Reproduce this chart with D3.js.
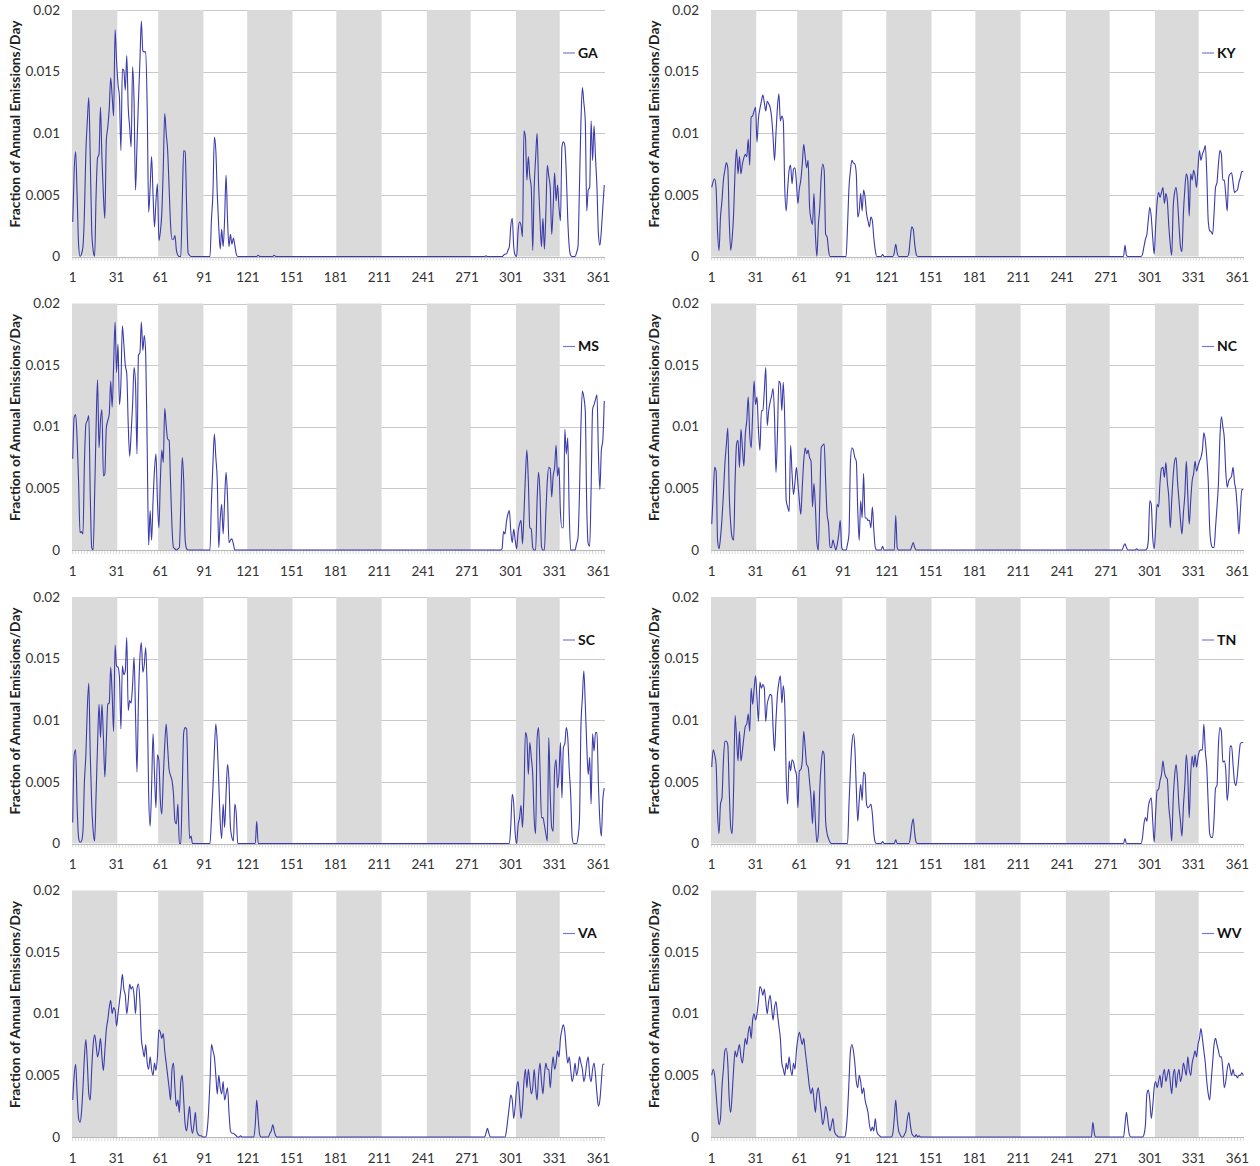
<!DOCTYPE html>
<html><head><meta charset="utf-8">
<script src="https://cdn.jsdelivr.net/npm/d3@7"></script>
<style>
body{margin:0;background:#fff;}
svg{display:block;}
text{font-family:Lato,"Open Sans","DejaVu Sans",sans-serif;}
</style>
</head><body>
<svg id="chart" width="1260" height="1166"></svg>
<script>
const states = ["GA","KY","MS","NC","SC","TN","VA","WV"];
const yTicks = [0, 0.005, 0.01, 0.015, 0.02];
const yTickLabels = ["0", "0.005", "0.01", "0.015", "0.02"];
const xTicks = [1, 31, 61, 91, 121, 151, 181, 211, 241, 271, 301, 331, 361];
const monthStart = [1, 32, 60, 91, 121, 152, 182, 213, 244, 274, 305, 335];
const monthEnd   = [31, 59, 90, 120, 151, 181, 212, 243, 273, 304, 334, 365];
const shadedMonths = [0, 2, 4, 6, 8, 10];
const yTitle = "Fraction of Annual Emissions/Day";

const GA = [
.0028,.007,.0085,.005,.001,0,.0002,.0008,.0035,.0085,.011,.0129,.008,.0021,.0005,0,.005,.008,.0083,.0121,
.008,.005,.0031,.0094,.0105,.012,.0145,.013,.0114,.0184,.0159,.014,.0129,.0086,.0152,.0151,.0135,.0163,.0121,.0105,
.0089,.0154,.0126,.0054,.009,.0126,.0158,.0191,.0167,.0166,.0166,.0121,.0036,.0056,.0081,.005,.0024,.0045,.0059,.0013,
.002,.0035,.0072,.0116,.01,.0086,.0056,.0026,.0014,.0014,.0017,.0005,.0001,0,0,.0045,.0086,.0085,.004,.0003,
.0001,0,0,0,0,0,0,0,0,0,0,0,0,0,0,.003,.0051,.0097,.0086,.005,
.0024,.0006,.0022,.0008,.003,.0066,.003,.0008,.0018,.001,.0015,.0009,.0002,0,0,0,0,0,0,0,
0,0,0,0,0,0,0,.0001,0,0,0,0,0,0,0,0,0,0,.0001,0,
0,0,0,0,0,0,0,0,0,0,0,0,0,0,0,0,0,0,0,0,
0,0,0,0,0,0,0,0,0,0,0,0,0,0,0,0,0,0,0,0,
0,0,0,0,0,0,0,0,0,0,0,0,0,0,0,0,0,0,0,0,
0,0,0,0,0,0,0,0,0,0,0,0,0,0,0,0,0,0,0,0,
0,0,0,0,0,0,0,0,0,0,0,0,0,0,0,0,0,0,0,0,
0,0,0,0,0,0,0,0,0,0,0,0,0,0,0,0,0,0,0,0,
0,0,0,0,0,0,0,0,0,0,0,0,0,0,0,0,0,0,0,0,
0,0,0,.00005,0,0,0,0,0,0,0,0,0,0,0,.0001,.0002,.0002,.0005,.0008,
.0025,.0031,.0008,.0001,0,.0021,.0028,.0025,.0016,.0102,.0097,.0062,.0081,.0065,.0056,.0005,.0056,.008,.01,.0059,
.003,.0008,.0031,.0006,.0035,.0074,.0065,.0056,.0018,.004,.0068,.0045,.0058,.004,.0029,.0089,.0093,.009,.0067,.003,
.0008,.0001,0,0,0,.0003,.0008,.0056,.0108,.0137,.0125,.011,.0037,.0054,.0056,.011,.0078,.0106,.008,.0056,
.0018,.0009,.0021,.004,.0058];

const KY = [
.0056,.0061,.0063,.0055,.002,.0005,.0032,.0045,.0062,.007,.0076,.0072,.0029,.0005,.0015,.0035,.007,.0087,.0067,.0081,
.0067,.0075,.008,.0083,.0081,.0095,.0074,.0113,.0114,.0118,.0121,.0093,.0112,.012,.0126,.0131,.0125,.0118,.0126,.0124,
.0121,.0113,.0097,.0078,.01,.0121,.0132,.011,.0114,.011,.0056,.0037,.0055,.007,.0074,.0059,.0071,.0072,.006,.0043,
.0055,.0062,.0075,.0091,.0081,.0072,.0078,.004,.003,.0026,.0051,.0018,0,.0025,.004,.0065,.0075,.007,.0018,.0016,
.0005,0,0,0,0,0,0,0,0,0,0,0,0,.0025,.0056,.007,.0078,.0076,.0075,.0067,
.0032,.0037,.0051,.0037,.0054,.0048,.0035,.0029,.0024,.0032,.0029,.0015,.0005,0,0,0,0,.00015,0,0,
0,0,0,0,0,.0003,.001,.0003,0,0,0,0,0,0,0,.0003,.0015,.0024,.0022,.001,
.0002,0,0,0,0,0,0,0,0,0,0,0,0,0,0,0,0,0,0,0,
0,0,0,0,0,0,0,0,0,0,0,0,0,0,0,0,0,0,0,0,
0,0,0,0,0,0,0,0,0,0,0,0,0,0,0,0,0,0,0,0,
0,0,0,0,0,0,0,0,0,0,0,0,0,0,0,0,0,0,0,0,
0,0,0,0,0,0,0,0,0,0,0,0,0,0,0,0,0,0,0,0,
0,0,0,0,0,0,0,0,0,0,0,0,0,0,0,0,0,0,0,0,
0,0,0,0,0,0,0,0,0,0,0,0,0,0,0,0,0,0,0,0,
0,0,0,.0009,.0001,0,0,0,0,0,0,0,0,0,0,.0002,.0008,.0014,.0018,.003,
.004,.0032,.0015,.0002,.0025,.0044,.0052,.0048,.0052,.0056,.0043,.0051,.0045,.0025,.001,.0001,.004,.0052,.0056,.0045,
.0025,.0008,.0004,.0035,.0055,.0067,.0062,.0033,.0067,.0062,.007,.0065,.0056,.0072,.0086,.0078,.0083,.0086,.009,.0067,
.0029,.0021,.002,.0018,.0035,.0056,.006,.0075,.0086,.0083,.0062,.0062,.005,.0037,.0064,.0067,.0068,.006,.0052,.0053,
.0054,.006,.0064,.0069,.0069];

const MS = [
.0074,.0108,.011,.009,.0056,.0014,.0015,.0013,.007,.0102,.0105,.0109,.0045,.0002,0,.0045,.01,.0138,.0083,.0105,
.0114,.006,.0062,.0099,.0105,.011,.0137,.0116,.015,.0185,.0144,.0167,.0118,.0135,.0182,.0167,.015,.0143,.0102,.0076,
.0095,.0118,.0148,.0135,.0078,.0158,.016,.0185,.0162,.0174,.0158,.0083,.0004,.0032,.0008,.004,.0065,.0078,.004,.0018,
.0056,.0081,.0071,.0115,.0101,.009,.0089,.0054,.0018,.0002,.0001,0,.0001,.0002,.0035,.0075,.0056,.0008,.0001,0,
0,0,0,0,0,0,0,0,0,0,0,0,0,0,0,.004,.007,.0094,.0075,.0056,
.0002,.0025,.0037,.0013,.004,.0063,.0043,.0006,.0008,.0009,.0005,0,0,0,0,0,0,0,0,0,
0,0,0,0,0,0,0,0,0,0,0,0,0,0,0,0,0,0,0,0,
0,0,0,0,0,0,0,0,0,0,0,0,0,0,0,0,0,0,0,0,
0,0,0,0,0,0,0,0,0,0,0,0,0,0,0,0,0,0,0,0,
0,0,0,0,0,0,0,0,0,0,0,0,0,0,0,0,0,0,0,0,
0,0,0,0,0,0,0,0,0,0,0,0,0,0,0,0,0,0,0,0,
0,0,0,0,0,0,0,0,0,0,0,0,0,0,0,0,0,0,0,0,
0,0,0,0,0,0,0,0,0,0,0,0,0,0,0,0,0,0,0,0,
0,0,0,0,0,0,0,0,0,0,0,0,0,0,0,0,0,0,0,0,
0,0,0,0,0,0,0,0,0,0,0,0,0,0,.0001,.0015,.0013,.0023,.0029,.0032,
.0015,.0006,.0017,.0008,.0001,.0015,.0021,.0024,.0005,.0029,.006,.0081,.0056,.0018,.0017,.0002,0,0,.004,.0063,
.0045,.0003,0,0,.003,.0056,.0067,.0066,.0043,.006,.0067,.0085,.006,.0067,.003,.0018,.0018,.0098,.0078,.0091,
.003,0,0,0,0,.0005,.001,.0045,.01,.0129,.0124,.0113,.0035,.0005,.0003,.005,.0114,.0118,.0122,.0126,
.0078,.0049,.0081,.0089,.0121];

const NC = [
.0021,.0045,.0067,.0064,.0008,.0001,.001,.0025,.0045,.007,.0085,.0099,.0045,.0021,.001,.0008,.0056,.0086,.0089,.0067,
.0098,.0083,.0068,.0094,.0105,.0124,.0094,.0083,.011,.0137,.0118,.0124,.0097,.0081,.0113,.0113,.0129,.0148,.0101,.0113,
.012,.0125,.0131,.0108,.0063,.0094,.0137,.0135,.0113,.0136,.0105,.004,.0035,.0031,.0085,.0062,.0045,.0055,.0067,.0054,
.004,.0029,.0051,.0072,.0083,.0078,.0081,.0075,.0072,.0035,.0054,.0035,.0006,0,.004,.0083,.0085,.0086,.0056,.0029,
.0021,.0002,.0002,.0008,.0004,0,.0005,.0013,.0024,.0002,0,0,0,.0005,.0013,.0072,.0083,.0081,.0075,.0072,
.0032,.0008,.004,.0026,.0062,.0026,.0026,.0024,.0024,.0018,.0035,.0016,.0002,0,0,0,0,.0003,0,0,
0,0,0,0,0,0,.0028,.0002,0,0,0,0,0,0,0,0,0,.0003,.0006,.0002,
0,0,0,0,0,0,0,0,0,0,0,0,0,0,0,0,0,0,0,0,
0,0,0,0,0,0,0,0,0,0,0,0,0,0,0,0,0,0,0,0,
0,0,0,0,0,0,0,0,0,0,0,0,0,0,0,0,0,0,0,0,
0,0,0,0,0,0,0,0,0,0,0,0,0,0,0,0,0,0,0,0,
0,0,0,0,0,0,0,0,0,0,0,0,0,0,0,0,0,0,0,0,
0,0,0,0,0,0,0,0,0,0,0,0,0,0,0,0,0,0,0,0,
0,0,0,0,0,0,0,0,0,0,0,0,0,0,0,0,0,0,0,0,
0,0,.0003,.0005,.0002,0,0,0,0,0,0,.0001,0,0,0,0,0,0,.0001,.0008,
.004,.0037,.001,.0001,.0018,.0037,.0035,.0055,.0066,.0067,.0059,.0071,.0055,.0043,.0018,.004,.006,.0072,.0075,.0055,
.004,.0024,.0013,.003,.0045,.0072,.0045,.0021,.004,.0056,.0062,.0072,.0064,.0068,.0072,.0075,.0081,.0095,.0089,.0075,
.0056,.0018,.0005,.0002,.0002,.0018,.0035,.0054,.0091,.0108,.01,.0091,.0064,.0051,.0056,.0058,.006,.0067,.0055,.0048,
.0032,.0013,.0032,.0049,.0049];

const SC = [
.0017,.0072,.0076,.003,.0005,.0001,.0002,.001,.005,.0072,.011,.013,.0072,.0032,.001,.0002,.004,.008,.0113,.0086,
.0113,.0086,.0054,.0083,.0113,.0114,.0143,.0121,.0091,.0161,.0144,.0143,.0135,.0093,.0144,.0137,.014,.0167,.0108,.0116,
.0114,.0129,.0151,.0105,.0058,.0116,.0151,.0163,.0139,.0145,.0159,.0121,.004,.0014,.0045,.0089,.0056,.0029,.0072,.0067,
.0035,.0024,.0054,.008,.0097,.0078,.006,.0055,.0051,.004,.0018,.0016,.0032,0,0,.0045,.009,.0094,.0093,.0045,
.0004,.0006,0,0,0,0,0,0,0,0,0,0,0,0,0,.002,.0045,.0075,.0097,.0081,
.005,.0018,.0004,.0032,.0013,.004,.0064,.0051,.0013,.0005,.0002,.0032,.0024,0,0,0,0,0,0,0,
0,0,0,0,0,0,.0018,0,0,0,0,0,0,0,0,0,0,0,0,0,
0,0,0,0,0,0,0,0,0,0,0,0,0,0,0,0,0,0,0,0,
0,0,0,0,0,0,0,0,0,0,0,0,0,0,0,0,0,0,0,0,
0,0,0,0,0,0,0,0,0,0,0,0,0,0,0,0,0,0,0,0,
0,0,0,0,0,0,0,0,0,0,0,0,0,0,0,0,0,0,0,0,
0,0,0,0,0,0,0,0,0,0,0,0,0,0,0,0,0,0,0,0,
0,0,0,0,0,0,0,0,0,0,0,0,0,0,0,0,0,0,0,0,
0,0,0,0,0,0,0,0,0,0,0,0,0,0,0,0,0,0,0,0,
0,0,0,0,0,0,0,0,0,0,0,0,0,0,0,0,0,0,0,0,
.0015,.004,.0032,.0008,0,.0015,.0021,.0031,.0013,.004,.009,.0086,.0056,.0082,.007,.0056,.002,.0008,.0085,.0094,
.006,.0021,.0021,.0015,.0008,.0002,.0086,.004,.0013,.001,.006,.0068,.0045,.0056,.0082,.0037,.0078,.0081,.0094,.0086,
.006,.004,.0005,0,0,0,.0005,.0018,.0094,.0118,.014,.0113,.008,.0056,.007,.0032,.0089,.0075,.009,.009,
.0048,.0018,.0006,.0035,.0045];

const TN = [
.0062,.0076,.0072,.0064,.0024,.0008,.0032,.0037,.0067,.0083,.0083,.008,.0043,.0013,.0008,.0045,.0104,.0085,.0067,.0091,
.0067,.0075,.0086,.0095,.0097,.0105,.0091,.0126,.0113,.0125,.0136,.0118,.0099,.0131,.0126,.0129,.0126,.0099,.0113,.0118,
.0121,.012,.0094,.0075,.01,.0121,.0131,.0136,.0114,.0128,.0113,.0054,.0032,.0067,.0059,.0068,.0066,.006,.0056,.0029,
.0059,.006,.0067,.0091,.0078,.0064,.0062,.005,.0037,.0016,.0043,.0018,.0001,.0008,.0045,.0065,.0075,.0072,.0018,.0008,
.0004,.0001,0,0,0,0,0,0,0,0,0,0,0,0,.0032,.006,.0081,.0089,.0078,.0045,
.0018,.0035,.0048,.0035,.0058,.0056,.0032,.0029,.003,.0032,.0024,.0008,.0001,0,0,0,0,.00015,0,0,
0,0,0,0,0,0,.0003,0,0,0,0,0,0,0,0,0,.0005,.0015,.002,.0008,
.0001,0,0,0,0,0,0,0,0,0,0,0,0,0,0,0,0,0,0,0,
0,0,0,0,0,0,0,0,0,0,0,0,0,0,0,0,0,0,0,0,
0,0,0,0,0,0,0,0,0,0,0,0,0,0,0,0,0,0,0,0,
0,0,0,0,0,0,0,0,0,0,0,0,0,0,0,0,0,0,0,0,
0,0,0,0,0,0,0,0,0,0,0,0,0,0,0,0,0,0,0,0,
0,0,0,0,0,0,0,0,0,0,0,0,0,0,0,0,0,0,0,0,
0,0,0,0,0,0,0,0,0,0,0,0,0,0,0,0,0,0,0,0,
0,0,0,.0004,0,0,0,0,0,0,0,0,0,0,0,.0005,.0016,.0021,.0018,.003,
.0035,.0037,.0018,.0001,.0025,.0043,.0044,.0051,.0056,.0067,.0058,.0054,.0052,.003,.0018,.0002,.0035,.0055,.0064,.0051,
.003,.0018,.0006,.003,.0048,.0072,.0056,.0021,.0056,.0071,.0062,.0072,.0062,.007,.0075,.0076,.0076,.0097,.0075,.0062,
.0032,.0008,.0005,.0005,.002,.0045,.0047,.008,.0094,.0091,.0066,.0067,.006,.0035,.0048,.0079,.0079,.0064,.005,.0047,
.0056,.007,.0081,.0082,.0082];

const VA = [
.003,.005,.0059,.0035,.0015,.0012,.002,.004,.0065,.0079,.006,.0035,.003,.0055,.0075,.0083,.0075,.0065,.007,.008,
.0065,.0054,.007,.0087,.0095,.0105,.0111,.01,.0105,.0103,.009,.01,.011,.012,.0132,.012,.0115,.01,.011,.0124,
.012,.0122,.0115,.01,.012,.0124,.011,.008,.0071,.0065,.0075,.006,.0055,.0065,.0055,.005,.006,.0054,.0065,.0087,
.0085,.008,.0084,.007,.006,.005,.004,.003,.0055,.006,.004,.0025,.003,.002,.0045,.005,.003,.001,.0005,.0015,
.0025,.001,.0003,.001,.002,.0005,.0002,.0001,.0001,0,0,0,.0005,.002,.0045,.0075,.007,.0065,.005,.0035,
.005,.004,.0035,.0045,.003,.0035,.004,.002,.0005,.0003,.0003,.0002,.0001,0,0,.0001,0,0,0,0,
0,0,0,0,0,.001,.003,.0015,.0002,0,0,0,0,0,0,.0003,.0005,.001,.0005,.0001,
0,0,0,0,0,0,0,0,0,0,0,0,0,0,0,0,0,0,0,0,
0,0,0,0,0,0,0,0,0,0,0,0,0,0,0,0,0,0,0,0,
0,0,0,0,0,0,0,0,0,0,0,0,0,0,0,0,0,0,0,0,
0,0,0,0,0,0,0,0,0,0,0,0,0,0,0,0,0,0,0,0,
0,0,0,0,0,0,0,0,0,0,0,0,0,0,0,0,0,0,0,0,
0,0,0,0,0,0,0,0,0,0,0,0,0,0,0,0,0,0,0,0,
0,0,0,0,0,0,0,0,0,0,0,0,0,0,0,0,0,0,0,0,
0,0,0,.0003,.0007,.0003,0,0,0,0,0,0,0,0,0,0,0,.0005,.0015,.0025,
.0034,.003,.0015,.0025,.004,.0045,.003,.0015,.0025,.0045,.0055,.004,.0055,.0045,.0035,.004,.0055,.004,.003,.005,
.006,.0045,.0035,.005,.006,.0055,.0055,.004,.0055,.0065,.0055,.006,.007,.0065,.008,.0087,.0091,.0085,.007,.006,
.0065,.0055,.0045,.005,.006,.005,.0055,.0065,.006,.0055,.0045,.005,.006,.0065,.005,.0045,.0055,.006,.005,.0035,
.0025,.003,.0045,.0059,.0059];

const WV = [
.005,.0055,.005,.0035,.002,.001,.0015,.004,.0055,.007,.0072,.006,.003,.002,.0035,.0055,.007,.0065,.007,.0075,
.0065,.006,.007,.008,.0075,.0085,.009,.008,.0095,.01,.0095,.01,.011,.0122,.012,.0115,.012,.011,.01,.011,
.0115,.0105,.0095,.0105,.011,.01,.009,.008,.006,.0055,.005,.006,.0055,.0065,.0055,.005,.006,.0055,.007,.008,
.0085,.008,.0075,.008,.007,.006,.005,.004,.0035,.004,.003,.002,.0035,.004,.003,.002,.001,.0015,.0025,.002,
.001,.0005,.001,.0015,.0005,.0002,.0001,0,0,0,0,0,.0005,.002,.0045,.007,.0075,.007,.006,.0045,
.004,.005,.0045,.0035,.004,.003,.0025,.002,.001,.0005,.0008,.0005,.0015,.0005,.0002,.0001,0,0,0,0,
0,0,0,0,.0003,.0015,.003,.0015,.0005,.0002,0,0,.0002,.0005,.0015,.002,.001,.0003,.0001,0,
.0002,0,.0001,0,0,0,0,0,0,0,0,0,0,0,0,0,0,0,0,0,
0,0,0,0,0,0,0,0,0,0,0,0,0,0,0,0,0,0,0,0,
0,0,0,0,0,0,0,0,0,0,0,0,0,0,0,0,0,0,0,0,
0,0,0,0,0,0,0,0,0,0,0,0,0,0,0,0,0,0,0,0,
0,0,0,0,0,0,0,0,0,0,0,0,0,0,0,0,0,0,0,0,
0,0,0,0,0,0,0,0,0,0,0,0,0,0,0,0,0,0,0,0,
0,.0012,.0003,0,0,0,0,0,0,0,0,0,0,0,0,0,0,0,0,0,
0,0,0,.001,.002,.001,.0002,0,0,0,0,0,0,0,0,0,.0002,.001,.0035,.0038,
.003,.0015,.0025,.004,.0045,.004,.0045,.005,.004,.005,.0055,.0045,.005,.0055,.0045,.0035,.005,.0055,.004,.005,
.0055,.0045,.005,.006,.0055,.005,.0065,.0055,.005,.006,.0065,.007,.0065,.0075,.008,.0088,.008,.007,.006,.0045,
.0035,.003,.0045,.006,.0075,.008,.0075,.007,.0065,.0065,.0055,.004,.0045,.0055,.006,.0055,.005,.0055,.005,.005,
.0048,.005,.005,.0052,.005];

const seriesByState = {GA, KY, MS, NC, SC, TN, VA, WV};

const lineColor = "#3b3bab";
const svg = d3.select("#chart");

const colLeft = [72, 711];
const plotWidth = 533;
const rowTop = [10, 303.5, 597, 890.5];
const plotHeight = 246.5;

states.forEach((st, i) => {
  const values = seriesByState[st];
  if (values.length !== 365) console.error(st + " has " + values.length + " values");
  const col = i % 2, row = Math.floor(i / 2);
  const x0 = colLeft[col], x1 = x0 + plotWidth;
  const top = rowTop[row], bottom = top + plotHeight;

  const x = d3.scaleLinear().domain([0.5, 365.5]).range([x0, x1]);
  const y = d3.scaleLinear().domain([0, 0.02]).range([bottom, top]);
  const g = svg.append("g");

  g.selectAll(".grid").data(yTicks.slice(1)).join("line")
    .attr("x1", x0).attr("x2", x1)
    .attr("y1", d => Math.round(y(d)) + 0.5).attr("y2", d => Math.round(y(d)) + 0.5)
    .attr("stroke", "#c9c9c9").attr("stroke-width", 1);

  g.selectAll(".band").data(shadedMonths).join("rect")
    .attr("x", m => x(monthStart[m] - 0.5))
    .attr("width", m => x(monthEnd[m] + 0.5) - x(monthStart[m] - 0.5))
    .attr("y", y(0.02)).attr("height", y(0) - y(0.02))
    .attr("fill", "#dadada");

  g.append("line").attr("x1", x0).attr("x2", x1)
    .attr("y1", Math.round(y(0)) + 0.5).attr("y2", Math.round(y(0)) + 0.5)
    .attr("stroke", "#b8b8b8").attr("stroke-width", 1);

  const days = d3.range(1, 366, 2);
  g.selectAll(".tk").data(days).join("line")
    .attr("x1", d => x(d)).attr("x2", d => x(d))
    .attr("y1", y(0) + 1).attr("y2", y(0) + 4)
    .attr("stroke", "#cfcfcf").attr("stroke-width", 0.8);

  g.selectAll(".yl").data(yTicks).join("text")
    .attr("x", x0 - 12).attr("y", d => y(d))
    .attr("dy", "0.35em").attr("text-anchor", "end")
    .attr("font-size", 13.5).attr("fill", "#333")
    .text((d, k) => yTickLabels[k]);

  g.selectAll(".xl").data(xTicks).join("text")
    .attr("x", d => x(d)).attr("y", bottom + 21)
    .attr("dy", "0.35em").attr("text-anchor", "middle")
    .attr("font-size", 13.5).attr("fill", "#333")
    .text(d => d);

  g.append("text")
    .attr("transform", `translate(${x0 - 57},${top + 114}) rotate(-90)`)
    .attr("text-anchor", "middle").attr("dy", "0.35em")
    .attr("font-size", 13.8).attr("font-weight", "bold").attr("fill", "#222")
    .text(yTitle);

  const line = d3.line().x((v, k) => x(k + 1)).y(v => y(v)).curve(d3.curveMonotoneX);
  g.append("path").datum(values)
    .attr("d", line).attr("fill", "none")
    .attr("stroke", lineColor).attr("stroke-width", 1.1)
    .attr("stroke-linejoin", "round");

  const ly = top + 43;
  g.append("line").attr("x1", x1 - 42).attr("x2", x1 - 30)
    .attr("y1", ly).attr("y2", ly)
    .attr("stroke", "#7a7acc").attr("stroke-width", 1.2);
  g.append("text").attr("x", x1 - 27).attr("y", ly).attr("dy", "0.35em")
    .attr("font-size", 14).attr("font-weight", "bold").attr("fill", "#111")
    .text(st);
});
</script>
</body></html>
